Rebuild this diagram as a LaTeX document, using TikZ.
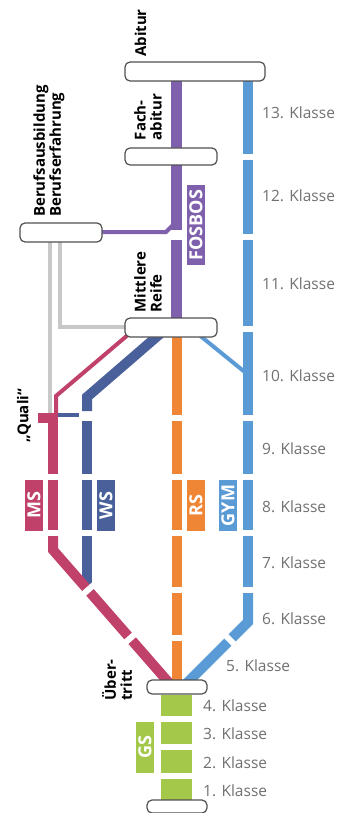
\documentclass[tikz,border=0pt]{standalone}
\usepackage{fontspec}
\setmainfont{Open Sans}
\usetikzlibrary{calc}
\definecolor{cgym}{HTML}{5B9BD5}
\definecolor{crs}{HTML}{EF8636}
\definecolor{cfos}{HTML}{7F60AC}
\definecolor{cms}{HTML}{C0416A}
\definecolor{cws}{HTML}{4A609A}
\definecolor{cgray}{HTML}{C8C8C8}
\definecolor{cgs}{HTML}{A3C84A}
\definecolor{ctxt}{HTML}{707070}
\definecolor{cborder}{HTML}{505050}
\tikzset{
  thick line/.style={line width=10pt, draw=#1},
  thin line/.style={line width=4pt, draw=#1},
  cut/.style={line width=6pt, draw=white},
  endbox/.style={draw=cborder, line width=1.2pt, fill=white, rounded corners=5pt, inner sep=0pt},
  year/.style={text=ctxt, font=\fontsize{15.5}{16}\selectfont, anchor=west, inner sep=0pt},
  rotlab/.style={rotate=90, font=\bfseries\fontsize{15}{16}\selectfont, align=left, inner sep=0pt},
  tag/.style={fill=#1, text=white, font=\bfseries\fontsize{18}{18}\selectfont, rotate=90, inner sep=0pt, minimum height=18pt},
  gsblock/.style={fill=cgs, inner sep=0pt}
}
\begin{document}
\begin{tikzpicture}[x=1pt,y=-1pt]
\useasboundingbox (0,0) rectangle (338,813);

% ---------- coordinates ----------
\coordinate (gymD1) at (248,622);
\coordinate (gymD2) at (186,684);
\coordinate (msD1) at (53,550);
\coordinate (msD2) at (170,684);

% ---------- gray lines ----------
\draw[thin line=cgray] (50,240) -- (50,413);
\draw[thin line=cgray] (60,240) -- (60,327) -- (127,327);

% ---------- purple FOSBOS ----------
\draw[line width=11pt, draw=cfos] (176.5,78) -- (176.5,230);
\draw[line width=11pt, draw=cfos] (176.5,240) -- (176.5,321);
\draw[thin line=cfos] (100,232) -- (166,232) -- (174,224);

% ---------- blue GYM ----------
\foreach \a/\b in {78/154, 160/234, 240/326, 332/415, 421/474, 480/530, 536/587}
  \draw[thick line=cgym] (248,\a) -- (248,\b);
\draw[thick line=cgym] (248,593) -- (gymD1) -- (gymD2);
\draw[cut] (225,635) -- (235,645);
\draw[thin line=cgym] (198,334) -- (246,373);

% ---------- orange RS ----------
\foreach \a/\b in {334/415, 421/474, 480/530, 536/587, 593/635, 641/684}
  \draw[thick line=crs] (176.5,\a) -- (176.5,\b);

% ---------- dark blue WS ----------
\draw[thick line=cws] (161,333) -- (87,397) -- (87,411);
\foreach \a/\b in {421/474, 480/530, 536/589}
  \draw[thick line=cws] (87,\a) -- (87,\b);
\draw[thin line=cws] (58,415) -- (79,415);

% ---------- pink MS ----------
\draw[thin line=cms] (129,334) -- (56,396) -- (56,413);
\fill[cms] (38,413) rectangle (58,423);
\foreach \a/\b in {413/474, 480/530}
  \draw[thick line=cms] (53,\a) -- (53,\b);
\draw[thick line=cms] (53,536) -- (msD1) -- (msD2);
\draw[cut] ($(88,590)+(-7,6.2)$) -- ($(88,590)+(7,-6.2)$);
\draw[cut] ($(130.5,638)+(-7,6.2)$) -- ($(130.5,638)+(7,-6.2)$);

% ---------- green GS ----------
\fill[cgs] (161,695) rectangle (192,716);
\fill[cgs] (161,722) rectangle (192,744);
\fill[cgs] (161,750) rectangle (192,773);
\fill[cgs] (161,779) rectangle (192,800);

% ---------- boxes ----------
\node[endbox, minimum width=140pt, minimum height=19pt] (abi) at (195,71.5) {};
\node[endbox, minimum width=92pt, minimum height=17pt] (fach) at (171,156.5) {};
\node[endbox, minimum width=82pt, minimum height=19pt] (beruf) at (61,232.5) {};
\node[endbox, minimum width=92pt, minimum height=19pt] (mr) at (171,327.5) {};
\node[endbox, minimum width=60pt, minimum height=14pt] (ueber) at (177,687) {};
\node[endbox, minimum width=60pt, minimum height=13pt] (start) at (177,806.5) {};

% ---------- tags ----------
\node[tag=cfos, minimum width=80pt] (tfos) at (196,225) {FOSBOS};
\node[tag=cms, minimum width=51pt] (tms) at (34,505.5) {MS};
\node[tag=cws, minimum width=51pt] (tws) at (106,505.5) {WS};
\node[tag=crs, minimum width=51pt] (trs) at (196,505.5) {RS};
\node[tag=cgym, minimum width=51pt] (tgym) at (228,505.5) {GYM};
\node[tag=cgs, minimum width=51pt] (tgs) at (145,747.5) {GS};

% ---------- rotated black labels ----------
\node[rotlab] (labi) at (140.5,33) {Abitur};
\node[rotlab] (lfach) at (148,117) {Fach-\\abitur};
\node[rotlab] (lberuf) at (49,151) {Berufsausbildung\\Berufserfahrung};
\node[rotlab] (lmr) at (148,282) {Mittlere\\Reife};
\node[rotlab] (lquali) at (24,416) {„Quali“};
\node[rotlab] (lueber) at (117,680) {Über-\\tritt};

% ---------- year labels ----------
\node[year] (k13) at (262,113) {13. Klasse};
\node[year] (k12) at (262,196) {12. Klasse};
\node[year] (k11) at (262,284) {11. Klasse};
\node[year] (k10) at (262,376) {10. Klasse};
\node[year] (k9) at (262,449) {9. Klasse};
\node[year] (k8) at (262,507) {8. Klasse};
\node[year] (k7) at (262,563) {7. Klasse};
\node[year] (k6) at (262,619) {6. Klasse};
\node[year] (k5) at (226,666) {5. Klasse};
\node[year] (k4) at (203,706) {4. Klasse};
\node[year] (k3) at (203,734) {3. Klasse};
\node[year] (k2) at (203,763) {2. Klasse};
\node[year] (k1) at (203,791) {1. Klasse};
\end{tikzpicture}
\end{document}
